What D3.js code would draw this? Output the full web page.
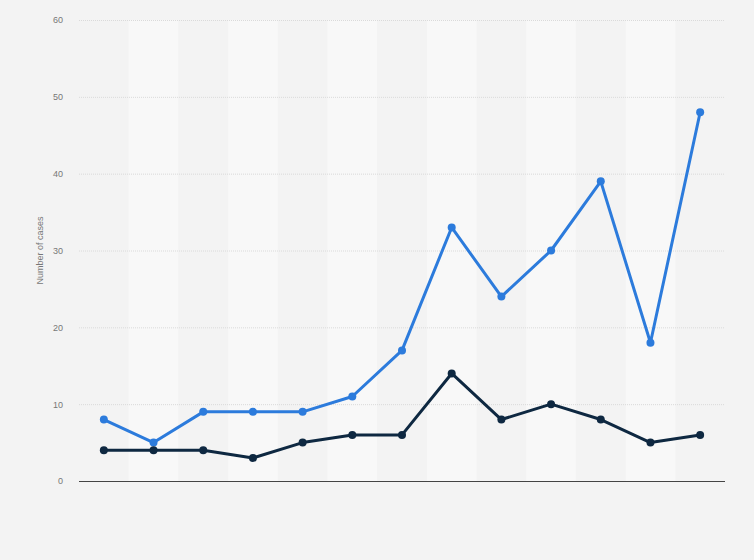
<!DOCTYPE html>
<html>
<head>
<meta charset="utf-8">
<script src="https://cdn.jsdelivr.net/npm/d3@7"></script>
<style>
  body { margin: 0; background: #f3f3f3; }
  svg { display: block; font-family: "Liberation Sans", Arial, sans-serif; }
</style>
</head>
<body>
<svg id="stage" width="754" height="560"></svg>
<script>
// Values (13 periods, labels not shown in the source)
const categories = ["1", "2", "3", "4", "5", "6", "7", "8", "9", "10", "11", "12", "13"];
const seriesTotal = [8, 5, 9, 9, 9, 11, 17, 33, 24, 30, 39, 18, 48];
const seriesOther = [4, 4, 4, 3, 5, 6, 6, 14, 8, 10, 8, 5, 6];
const yTicks = [0, 10, 20, 30, 40, 50, 60];

const svg = d3.select("#stage");
const margin = { top: 20, right: 29, bottom: 79, left: 79 };
const width = 754 - margin.left - margin.right;
const height = 560 - margin.top - margin.bottom;

const g = svg.append("g").attr("transform", `translate(${margin.left},${margin.top})`);

const x = d3.scaleBand().domain(categories).range([0, width]);
const y = d3.scaleLinear().domain([0, 60]).range([height, 0]);

// alternating column bands
g.selectAll("rect.band")
  .data(categories.filter((_, i) => i % 2 === 1))
  .enter()
  .append("rect")
  .attr("x", (d) => x(d))
  .attr("y", 0)
  .attr("width", x.bandwidth())
  .attr("height", height)
  .attr("fill", "#f8f8f8");

// y axis with dotted gridlines
const yAxis = g.append("g")
  .call(d3.axisLeft(y).tickValues(yTicks).tickSize(-width).tickPadding(16));
yAxis.select(".domain").remove();
yAxis.selectAll(".tick line")
  .attr("stroke", "#dadada")
  .attr("stroke-dasharray", "1,1");
yAxis.selectAll(".tick text")
  .attr("fill", "#777")
  .attr("font-size", 9);
yAxis.selectAll(".tick")
  .filter((d) => d === 0)
  .select("line")
  .attr("stroke", "#444")
  .attr("stroke-dasharray", null);

svg.append("text")
  .attr("transform", `translate(43,${margin.top + height / 2}) rotate(-90)`)
  .attr("text-anchor", "middle")
  .attr("fill", "#777")
  .attr("font-size", 9)
  .text("Number of cases");

const cx = (d, i) => x(categories[i]) + x.bandwidth() / 2;
const line = d3.line().x(cx).y((d) => y(d));

const series = [
  { values: seriesTotal, color: "#2c7bdc" },
  { values: seriesOther, color: "#0e2841" },
];

series.forEach((s) => {
  g.append("path")
    .datum(s.values)
    .attr("fill", "none")
    .attr("stroke", s.color)
    .attr("stroke-width", 3)
    .attr("stroke-linejoin", "round")
    .attr("d", line);
  g.selectAll(null)
    .data(s.values)
    .enter()
    .append("circle")
    .attr("cx", cx)
    .attr("cy", (d) => y(d))
    .attr("r", 4)
    .attr("fill", s.color);
});
</script>
</body>
</html>
